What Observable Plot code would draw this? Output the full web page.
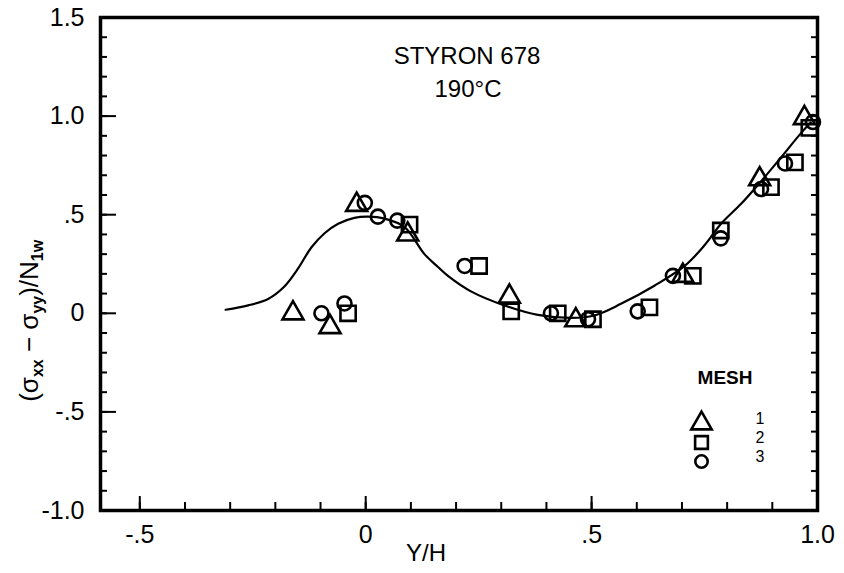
<!DOCTYPE html>
<html>
<head>
<meta charset="utf-8">
<script src="https://cdn.jsdelivr.net/npm/d3@7"></script>
<script src="https://cdn.jsdelivr.net/npm/@observablehq/plot@0.6"></script>
<style>
  html, body { margin: 0; padding: 0; background: #fff; }
  #chart { width: 844px; height: 573px; }
</style>
</head>
<body>
<div id="chart"></div>
<script>
// ---- data ----
const curveX = [-0.31, -0.26, -0.216, -0.18, -0.15, -0.12, -0.091, -0.061, -0.025, 0.005, 0.042, 0.086, 0.13, 0.16, 0.182, 0.234, 0.307, 0.381, 0.455, 0.506, 0.565, 0.639, 0.706, 0.75, 0.787, 0.831, 0.868, 0.912, 0.964, 0.985];
const curveY = [0.018, 0.04, 0.073, 0.136, 0.226, 0.335, 0.406, 0.454, 0.484, 0.49, 0.48, 0.437, 0.30, 0.235, 0.19, 0.11, 0.04, -0.008, -0.023, -0.011, 0.048, 0.14, 0.24, 0.345, 0.455, 0.555, 0.65, 0.77, 0.915, 0.967];

const mesh1X = [-0.161, -0.079, -0.02, 0.093, 0.318, 0.465, 0.702, 0.872, 0.971];
const mesh1Y = [0.0, -0.07, 0.55, 0.40, 0.085, -0.035, 0.19, 0.68, 0.99];

const mesh2X = [-0.039, 0.097, 0.251, 0.322, 0.425, 0.503, 0.628, 0.724, 0.786, 0.897, 0.95, 0.982];
const mesh2Y = [0.0, 0.45, 0.24, 0.01, 0.0, -0.03, 0.03, 0.19, 0.42, 0.64, 0.765, 0.94];

const mesh3X = [-0.098, -0.047, -0.002, 0.027, 0.07, 0.219, 0.41, 0.492, 0.602, 0.68, 0.786, 0.875, 0.928, 0.99];
const mesh3Y = [0.0, 0.05, 0.56, 0.49, 0.47, 0.24, 0.0, -0.03, 0.01, 0.19, 0.38, 0.63, 0.76, 0.97];

const xMajorTicks = [-0.5, 0, 0.5, 1.0];
const yMajorTicks = [-1.0, -0.5, 0, 0.5, 1.0, 1.5];
const xMinorTicks = [-0.5, -0.4, -0.3, -0.2, -0.1, 0, 0.1, 0.2, 0.3, 0.4, 0.5, 0.6, 0.7, 0.8, 0.9];
const yMinorTicks = [-0.9, -0.8, -0.7, -0.6, -0.5, -0.4, -0.3, -0.2, -0.1, 0, 0.1, 0.2, 0.3, 0.4, 0.5, 0.6, 0.7, 0.8, 0.9, 1.0, 1.1, 1.2, 1.3, 1.4];

const titleLines = ["STYRON 678", "190°C"];
const xLabel = "Y/H";
const legendTitle = "MESH";
const legendLabels = ["1", "2", "3"];
const legendSymbols = ["triangle", "square", "circle"];

// ---- build ----
const fmt = d => d === 0 ? "0" : d.toFixed(1).replace(/^(-?)0\./, "$1.");
const pts = (xs, ys) => xs.map((x, i) => ({x, y: ys[i]}));
const curve = pts(curveX, curveY);
const m1 = pts(mesh1X, mesh1Y), m2 = pts(mesh2X, mesh2Y), m3 = pts(mesh3X, mesh3Y);

const W = 844, H = 573, mL = 100, mR = 27, mT = 17, mB = 63;
const fw = W - mL - mR, fh = H - mT - mB;
const font = "'Liberation Sans Narrow', 'Liberation Sans', Arial, sans-serif";
const symR = {triangle: 7.6, square: 7.2, circle: 6.2};
const legendRowDy = [-87, -68, -49];

const legendMarks = legendLabels.flatMap((t, i) => [
  Plot.dot([legendSymbols[i]], {frameAnchor: "bottom-right", dx: -116, dy: legendRowDy[i], symbol: d => d, r: symR[legendSymbols[i]], stroke: "#000", strokeWidth: 2.6, fill: "none"}),
  Plot.text([t], {text: d => d, frameAnchor: "bottom-right", dx: -53, dy: legendRowDy[i], fontSize: 16})
]);

const chart = Plot.plot({
  width: W, height: H,
  marginLeft: mL, marginRight: mR, marginTop: mT, marginBottom: mB,
  x: {domain: [-0.587, 1.0]},
  y: {domain: [-1.0, 1.5]},
  symbol: {type: "identity"},
  style: {fontFamily: font, background: "#fff", color: "#000"},
  marks: [
    // inward ticks
    Plot.tickX(xMinorTicks, {x: d => d, insetTop: fh - 8, strokeWidth: 2}),
    Plot.tickX(xMajorTicks, {x: d => d, insetTop: fh - 14, strokeWidth: 2}),
    Plot.tickY(yMinorTicks, {y: d => d, insetRight: fw - 7, strokeWidth: 2}),
    Plot.tickY(yMajorTicks, {y: d => d, insetRight: fw - 16, strokeWidth: 2}),
    Plot.tickY(yMinorTicks, {y: d => d, insetLeft: fw - 6, strokeWidth: 2}),
    // tick labels
    Plot.axisX(xMajorTicks, {anchor: "bottom", tickSize: 0, tickPadding: 15, tickFormat: fmt, fontSize: 25, label: null}),
    Plot.axisY(yMajorTicks, {anchor: "left", tickSize: 0, tickPadding: 16, tickFormat: fmt, fontSize: 25, label: null}),
    // curve
    Plot.line(curve, {x: "x", y: "y", curve: "catmull-rom", stroke: "#000", strokeWidth: 2.2}),
    // data
    Plot.dot(m1, {x: "x", y: "y", symbol: () => "triangle", r: 7.8, stroke: "#000", strokeWidth: 2.6, fill: "none"}),
    Plot.dot(m2, {x: "x", y: "y", symbol: () => "square", r: 8.6, stroke: "#000", strokeWidth: 2.6, fill: "none"}),
    Plot.dot(m3, {x: "x", y: "y", symbol: () => "circle", r: 7, stroke: "#000", strokeWidth: 2.6, fill: "none"}),
    // frame
    Plot.frame({stroke: "#000", strokeWidth: 3.5}),
    // title
    Plot.text([titleLines[0]], {text: d => d, frameAnchor: "top", dx: 8, dy: 29, fontSize: 24, letterSpacing: 1.5}),
    Plot.text([titleLines[1]], {text: d => d, frameAnchor: "top", dx: 9, dy: 62, fontSize: 24, letterSpacing: 1}),
    // x label
    Plot.text([xLabel], {text: d => d, frameAnchor: "bottom", dx: -33, dy: 50, fontSize: 24, letterSpacing: 1}),
    // legend
    Plot.text([legendTitle], {text: d => d, frameAnchor: "bottom-right", dx: -65, dy: -127, fontSize: 19, fontWeight: "bold"}),
    ...legendMarks
  ]
});
document.getElementById("chart").appendChild(chart);

// y-axis label with subscripts
const svg = d3.select(chart.tagName.toLowerCase() === "svg" ? chart : chart.querySelector("svg"));
const yl = svg.append("text")
  .attr("transform", `translate(38,${mT + fh * 0.6 + 8}) rotate(-90)`)
  .attr("text-anchor", "middle")
  .attr("font-family", font)
  .attr("font-size", 26)
  .attr("fill", "#000");
const parts = [["(σ", false], ["xx", true], [" − σ", false], ["yy", true], [")/N", false], ["1w", true]];
parts.forEach(([t, sub]) => {
  const ts = yl.append("tspan").text(t);
  if (sub) ts.attr("font-size", 16).attr("font-weight", "bold").attr("dy", 5);
  else ts.attr("dy", yl.selectAll("tspan").size() > 1 ? -5 : 0);
});
</script>
</body>
</html>
